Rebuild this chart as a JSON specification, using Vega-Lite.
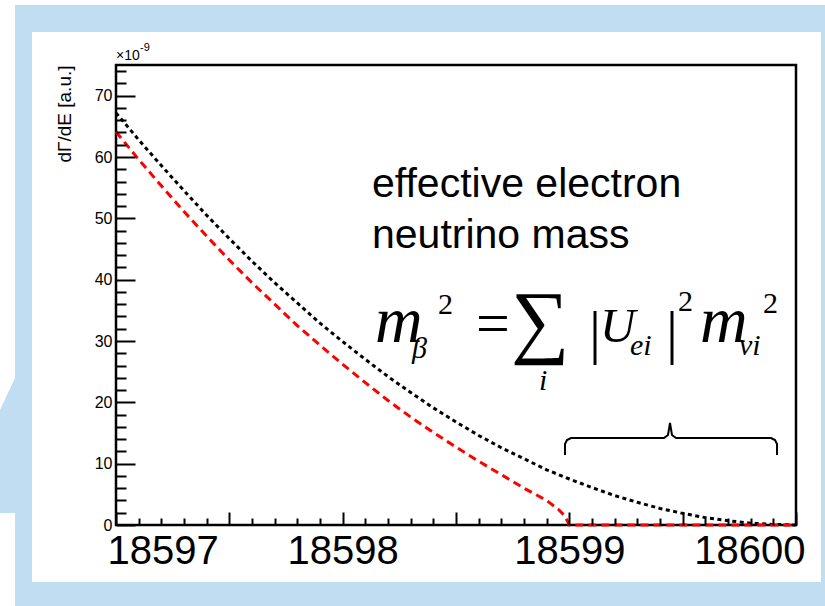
{
  "$schema": "https://vega.github.io/schema/vega-lite/v6.json",
  "width": 680,
  "height": 460,
  "autosize": {"type": "none"},
  "padding": {"left": 116, "top": 65, "right": 29, "bottom": 81},
  "background": "#C0DDF2",
  "config": {"view": {"stroke": null}},
  "datasets": {
    "decorRect": [
      {"E": 18596.6294, "E2": 18600.1103, "V": -9.293, "V2": 80.38},
      {"E": 18596.4882, "E2": 18600.1279, "V": 84.783, "V2": 85.598},
      {"E": 18596.4882, "E2": 18596.5544, "V": -13.207, "V2": 1.957}
    ],
    "decorArea": [
      {"E": 18596.4882, "V": 85.598, "V2": 18.75},
      {"E": 18596.5544, "V": 85.598, "V2": 23.967}
    ],
    "frame": [
      {"E": 18597, "E2": 18600, "V": 0, "V2": 75}
    ],
    "brace": [
      {"i": 1, "E": 18598.9809, "V": 11.413},
      {"i": 2, "E": 18598.9809, "V": 13.207},
      {"i": 3, "E": 18598.9897, "V": 13.859},
      {"i": 4, "E": 18599.0074, "V": 14.185},
      {"i": 5, "E": 18599.4176, "V": 14.185},
      {"i": 6, "E": 18599.4353, "V": 14.674},
      {"i": 7, "E": 18599.4441, "V": 16.63},
      {"i": 8, "E": 18599.4529, "V": 14.674},
      {"i": 9, "E": 18599.4706, "V": 14.185},
      {"i": 10, "E": 18599.8897, "V": 14.185},
      {"i": 11, "E": 18599.9074, "V": 13.859},
      {"i": 12, "E": 18599.9162, "V": 13.207},
      {"i": 13, "E": 18599.9162, "V": 11.413}
    ],
    "black": [
      {"E": 18597.0, "V": 67.2}, {"E": 18597.1, "V": 62.8}, {"E": 18597.2, "V": 58.6},
      {"E": 18597.3, "V": 54.5}, {"E": 18597.4, "V": 50.5}, {"E": 18597.5, "V": 46.7},
      {"E": 18597.6, "V": 43.0}, {"E": 18597.7, "V": 39.5}, {"E": 18597.8, "V": 36.2},
      {"E": 18597.9, "V": 32.9}, {"E": 18598.0, "V": 29.9}, {"E": 18598.1, "V": 27.0},
      {"E": 18598.2, "V": 24.2}, {"E": 18598.3, "V": 21.6}, {"E": 18598.4, "V": 19.1},
      {"E": 18598.5, "V": 16.8}, {"E": 18598.6, "V": 14.6}, {"E": 18598.7, "V": 12.6},
      {"E": 18598.8, "V": 10.8}, {"E": 18598.9, "V": 9.0}, {"E": 18599.0, "V": 7.5},
      {"E": 18599.1, "V": 6.1}, {"E": 18599.2, "V": 4.8}, {"E": 18599.3, "V": 3.7},
      {"E": 18599.4, "V": 2.7}, {"E": 18599.5, "V": 1.9}, {"E": 18599.6, "V": 1.2},
      {"E": 18599.7, "V": 0.7}, {"E": 18599.8, "V": 0.3}, {"E": 18599.9, "V": 0.1},
      {"E": 18600.0, "V": 0.0}
    ],
    "red": [
      {"E": 18597.0, "V": 64.1}, {"E": 18597.1, "V": 59.6}, {"E": 18597.2, "V": 55.3},
      {"E": 18597.3, "V": 51.1}, {"E": 18597.4, "V": 47.1}, {"E": 18597.5, "V": 43.2},
      {"E": 18597.6, "V": 39.5}, {"E": 18597.7, "V": 36.0}, {"E": 18597.8, "V": 32.5},
      {"E": 18597.9, "V": 29.3}, {"E": 18598.0, "V": 26.2}, {"E": 18598.1, "V": 23.2},
      {"E": 18598.2, "V": 20.3}, {"E": 18598.3, "V": 17.6}, {"E": 18598.4, "V": 15.1},
      {"E": 18598.5, "V": 12.7}, {"E": 18598.6, "V": 10.4}, {"E": 18598.7, "V": 8.2},
      {"E": 18598.8, "V": 6.0}, {"E": 18598.9, "V": 4.0}, {"E": 18598.95, "V": 2.6},
      {"E": 18598.98, "V": 1.5}, {"E": 18599.0, "V": 0.0}, {"E": 18600.0, "V": 0.0}
    ],
    "exponentBase": [
      {"t": "×10", "E": 18597.0, "V": 75.815}
    ],
    "exponentPow": [
      {"t": "-9", "E": 18597.1059, "V": 77.283}
    ],
    "textSans": [
      {"t": "effective electron", "E": 18598.1294, "V": 53.478},
      {"t": "neutrino mass", "E": 18598.1294, "V": 45.163}
    ],
    "mathM": [
      {"t": "m", "E": 18598.1426, "V": 29.837},
      {"t": "m", "E": 18599.5765, "V": 29.837}
    ],
    "mathU": [
      {"t": "U", "E": 18599.1353, "V": 29.837}
    ],
    "mathSub": [
      {"t": "β", "E": 18598.3059, "V": 27.228},
      {"t": "ei", "E": 18599.2676, "V": 27.717},
      {"t": "νi", "E": 18599.7485, "V": 27.717},
      {"t": "i", "E": 18598.8662, "V": 22.011}
    ],
    "mathSup": [
      {"t": "2", "E": 18598.4206, "V": 34.402},
      {"t": "2", "E": 18599.4794, "V": 34.891},
      {"t": "2", "E": 18599.8544, "V": 34.565}
    ],
    "mathEq": [
      {"t": "=", "E": 18598.5882, "V": 29.674}
    ],
    "mathBar": [
      {"t": "|", "E": 18599.0868, "V": 28.207},
      {"t": "|", "E": 18599.4265, "V": 28.207}
    ],
    "mathSum": [
      {"t": "∑", "E": 18598.8706, "V": 28.9}
    ]
  },
  "encoding": {
    "x": {
      "field": "E", "type": "quantitative",
      "scale": {"domain": [18597, 18600], "nice": false, "zero": false},
      "axis": {
        "title": null,
        "grid": false, "domain": false, "zindex": 1,
        "values": [18597, 18597.1, 18597.2, 18597.3, 18597.4, 18597.5, 18597.6, 18597.7, 18597.8, 18597.9, 18598, 18598.1, 18598.2, 18598.3, 18598.4, 18598.5, 18598.6, 18598.7, 18598.8, 18598.9, 18599, 18599.1, 18599.2, 18599.3, 18599.4, 18599.5, 18599.6, 18599.7, 18599.8, 18599.9, 18600],
        "labelExpr": "abs(datum.value - round(datum.value)) < 0.001 ? format(round(datum.value), 'd') : ''",
        "labelFont": "Liberation Sans", "labelFontSize": 40, "labelColor": "black",
        "labelFlush": true, "labelFlushOffset": 9, "labelOverlap": false, "labelPadding": 19,
        "tickColor": "black", "tickWidth": 2,
        "tickSize": {"condition": {"test": "abs(datum.value*2 - round(datum.value*2)) < 0.001", "value": -13}, "value": -7}
      }
    },
    "y": {
      "field": "V", "type": "quantitative",
      "scale": {"domain": [0, 75], "nice": false, "zero": false},
      "axis": {
        "title": "dΓ/dE [a.u.]",
        "grid": false, "domain": false, "zindex": 1,
        "values": [0, 2, 4, 6, 8, 10, 12, 14, 16, 18, 20, 22, 24, 26, 28, 30, 32, 34, 36, 38, 40, 42, 44, 46, 48, 50, 52, 54, 56, 58, 60, 62, 64, 66, 68, 70, 72, 74],
        "labelExpr": "datum.value % 10 === 0 ? '' + datum.value : ''",
        "labelFont": "Liberation Sans", "labelFontSize": 16, "labelColor": "black",
        "labelOverlap": false, "labelPadding": 23,
        "tickColor": "black", "tickWidth": 2,
        "tickSize": {"condition": {"test": "datum.value % 10 === 0", "value": -19}, "value": -10},
        "titleFont": "Liberation Sans", "titleFontSize": 19, "titleFontWeight": "normal", "titleColor": "black",
        "titleAngle": -90, "titleX": -52, "titleY": 0, "titleAlign": "right", "titleBaseline": "middle"
      }
    }
  },
  "layer": [
    {
      "data": {"name": "decorRect"},
      "mark": {"type": "rect", "fill": "white", "strokeWidth": 0},
      "encoding": {"x2": {"field": "E2"}, "y2": {"field": "V2"}}
    },
    {
      "data": {"name": "decorArea"},
      "mark": {"type": "area", "fill": "white", "orient": "vertical"},
      "encoding": {"y2": {"field": "V2"}}
    },
    {
      "data": {"name": "frame"},
      "mark": {"type": "rect", "fill": null, "fillOpacity": 0, "stroke": "black", "strokeWidth": 2.5},
      "encoding": {"x2": {"field": "E2"}, "y2": {"field": "V2"}}
    },
    {
      "data": {"name": "brace"},
      "mark": {"type": "line", "color": "black", "strokeWidth": 2},
      "encoding": {"order": {"field": "i", "type": "quantitative"}}
    },
    {
      "data": {"name": "black"},
      "mark": {"type": "line", "color": "black", "strokeWidth": 3, "strokeDash": [4, 3.5]},
      "encoding": {}
    },
    {
      "data": {"name": "red"},
      "mark": {"type": "line", "color": "#FF0000", "strokeWidth": 3, "strokeDash": [8, 5]},
      "encoding": {}
    },
    {
      "data": {"name": "exponentBase"},
      "mark": {"type": "text", "font": "Liberation Sans", "fontSize": 14, "align": "left", "baseline": "alphabetic", "color": "black"},
      "encoding": {"text": {"field": "t"}}
    },
    {
      "data": {"name": "exponentPow"},
      "mark": {"type": "text", "font": "Liberation Sans", "fontSize": 11, "align": "left", "baseline": "alphabetic", "color": "black"},
      "encoding": {"text": {"field": "t"}}
    },
    {
      "data": {"name": "textSans"},
      "mark": {"type": "text", "font": "Liberation Sans", "fontSize": 41, "align": "left", "baseline": "alphabetic", "color": "black"},
      "encoding": {"text": {"field": "t"}}
    },
    {
      "data": {"name": "mathM"},
      "mark": {"type": "text", "font": "Liberation Serif", "fontStyle": "italic", "fontSize": 66, "align": "left", "baseline": "alphabetic", "color": "black"},
      "encoding": {"text": {"field": "t"}}
    },
    {
      "data": {"name": "mathU"},
      "mark": {"type": "text", "font": "Liberation Serif", "fontStyle": "italic", "fontSize": 49, "align": "left", "baseline": "alphabetic", "color": "black"},
      "encoding": {"text": {"field": "t"}}
    },
    {
      "data": {"name": "mathSub"},
      "mark": {"type": "text", "font": "Liberation Serif", "fontStyle": "italic", "fontSize": 30, "align": "left", "baseline": "alphabetic", "color": "black"},
      "encoding": {"text": {"field": "t"}}
    },
    {
      "data": {"name": "mathSup"},
      "mark": {"type": "text", "font": "Liberation Serif", "fontSize": 30, "align": "left", "baseline": "alphabetic", "color": "black"},
      "encoding": {"text": {"field": "t"}}
    },
    {
      "data": {"name": "mathEq"},
      "mark": {"type": "text", "font": "Liberation Serif", "fontSize": 60, "align": "left", "baseline": "alphabetic", "color": "black"},
      "encoding": {"text": {"field": "t"}}
    },
    {
      "data": {"name": "mathBar"},
      "mark": {"type": "text", "font": "Liberation Serif", "fontSize": 60, "align": "left", "baseline": "alphabetic", "color": "black"},
      "encoding": {"text": {"field": "t"}}
    },
    {
      "data": {"name": "mathSum"},
      "mark": {"type": "text", "font": "Liberation Serif", "fontSize": 82, "align": "center", "baseline": "alphabetic", "color": "black"},
      "encoding": {"text": {"field": "t"}}
    }
  ]
}
